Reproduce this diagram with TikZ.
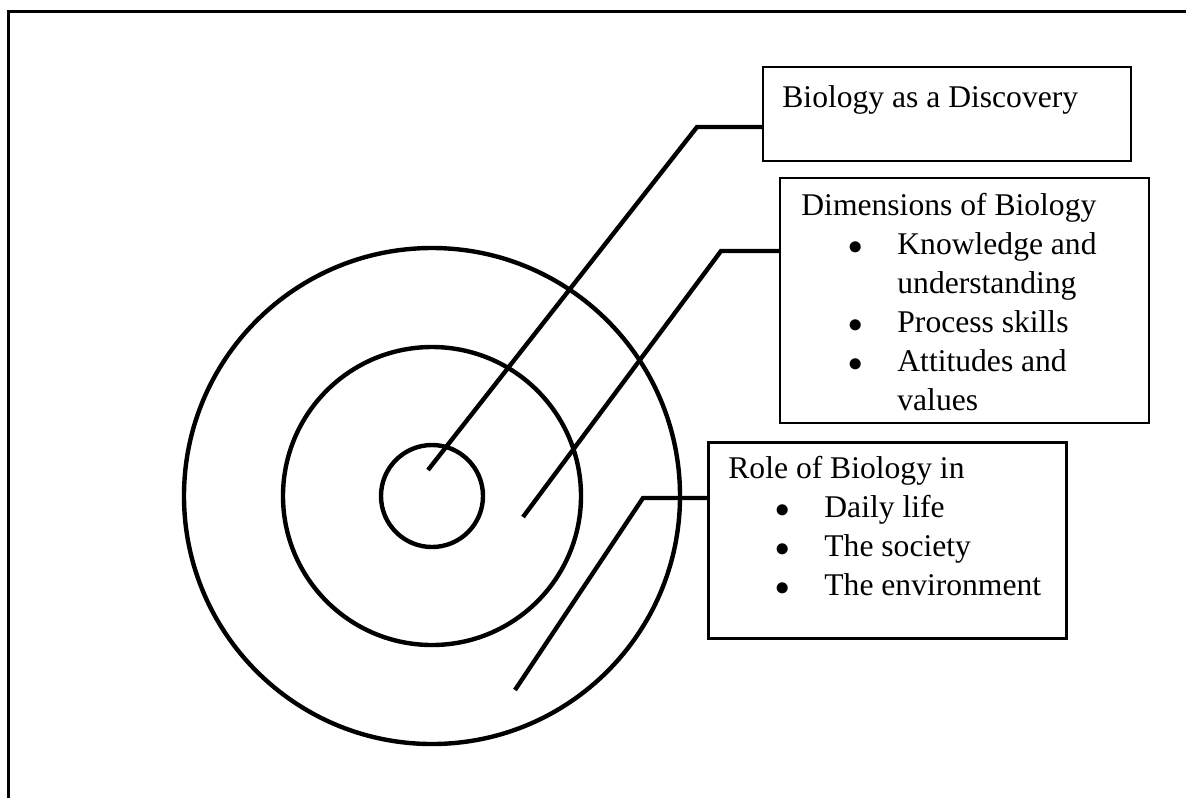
\documentclass[tikz,border=0pt]{standalone}
\usepackage{fontspec}
\setmainfont{Liberation Serif}
\usetikzlibrary{positioning, calc}

% bullet line and continuation line inside the boxes
\newcommand{\bitem}{\hspace*{20.5pt}\makebox[13pt]{$\bullet$}\hspace*{14.5pt}}
\newcommand{\bcont}{\hspace*{48pt}}

\begin{document}
\begin{tikzpicture}[x=0.5pt, y=-0.5pt,
    ring/.style={line width=2.2pt},
    leader/.style={line width=2.2pt},
    panel/.style={draw, line width=1pt, anchor=north west, inner sep=0pt},
    caption/.style={anchor=base west, inner sep=0pt, font=\fontsize{15.8}{19.5}\selectfont}]
    \useasboundingbox (0,0) rectangle (1186,798);

    % Frame
    \draw[line width=1.7pt] (8.5,798) -- (8.5,11.5) -- (1186,11.5);

    % Rings
    \coordinate (c) at (432,496);
    \draw[ring] (c) circle[radius=51];
    \draw[ring] (c) circle[radius=149];
    \draw[ring] (c) circle[radius=248];

    % Boxes
    \node[panel, minimum width=184pt, minimum height=47pt] (disc) at (762,66) {};
    \node[panel, minimum width=184.5pt, minimum height=122.5pt] (dims) at (779,177) {};
    \node[panel, line width=1.3pt, minimum width=179pt, minimum height=98pt] (role) at (707,441) {};

    % Box texts
    \node[caption] (disc-t) at ([shift={(20,41)}]disc.north west) {Biology as a Discovery};
    \node[caption] (dims-t) at ([shift={(22,38)}]dims.north west) {%
        \begin{tabular}[t]{@{}l@{}}
        Dimensions of Biology\\
        \bitem Knowledge and\\
        \bcont understanding\\
        \bitem Process skills\\
        \bitem Attitudes and\\
        \bcont values
        \end{tabular}};
    \node[caption] (role-t) at ([shift={(21,37)}]role.north west) {%
        \begin{tabular}[t]{@{}l@{}}
        Role of Biology in\\
        \bitem Daily life\\
        \bitem The society\\
        \bitem The environment
        \end{tabular}};

    % Leaders
    \coordinate (p1) at (428,470);
    \coordinate (k1) at (697,127);
    \coordinate (p2) at (523,517);
    \coordinate (k2) at (721,251);
    \coordinate (p3) at (515,690);
    \coordinate (k3) at (643,498);
    \draw[leader] (p1) -- (k1) -- (k1 -| disc.west);
    \draw[leader] (p2) -- (k2) -- (k2 -| dims.west);
    \draw[leader] (p3) -- (k3) -- (k3 -| role.west);
\end{tikzpicture}
\end{document}
